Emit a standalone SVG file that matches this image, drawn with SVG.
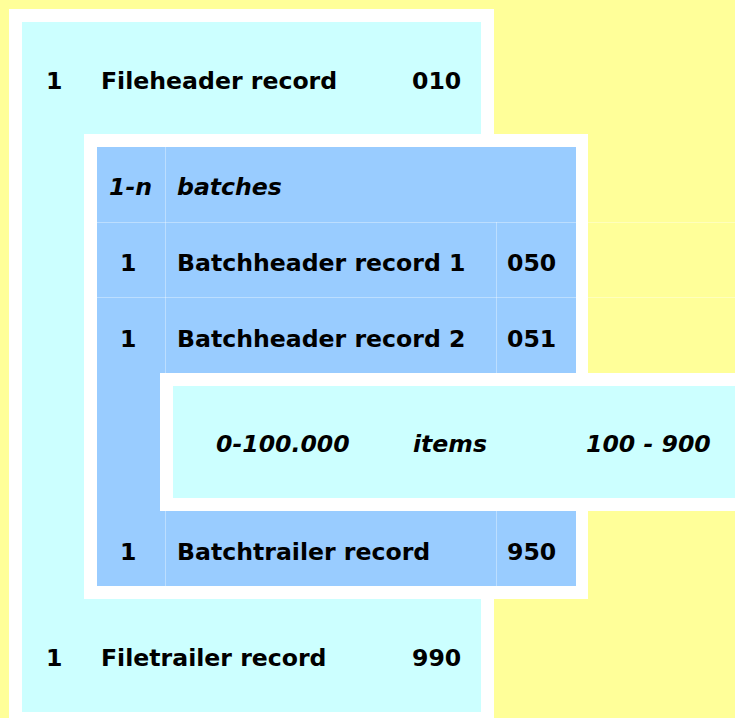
<svg xmlns="http://www.w3.org/2000/svg" width="735" height="718" viewBox="0 0 735 718">
<style>
.t{font-family:"DejaVu Sans","Verdana",sans-serif;font-weight:bold;font-size:23.6px;fill:#000}
.i{font-style:italic}
.cyan{fill:#CCFFFF}
.blue{fill:#99CCFF}
.white{fill:#FFFFFF}
.grid{stroke:#FFFFFF;stroke-opacity:0.35;stroke-width:1;fill:none}
</style>
<rect x="0" y="0" width="735" height="718" fill="#FFFF99"/>
<g id="file">
<rect class="white" x="9" y="9" width="485" height="709"/>
<rect class="cyan" x="22" y="22" width="459" height="690"/>
</g>
<g id="batches">
<rect class="white" x="84" y="134" width="504" height="465"/>
<rect class="blue" x="97" y="147" width="479" height="439"/>
</g>
<g id="items">
<rect class="white" x="160" y="373" width="580" height="138"/>
<rect class="cyan" x="173" y="386" width="567" height="112"/>
</g>
<g id="grid-lines" class="grid">
<line x1="97" y1="222.5" x2="735" y2="222.5"/>
<line x1="97" y1="297.5" x2="735" y2="297.5"/>
<line x1="165.5" y1="147" x2="165.5" y2="373"/>
<line x1="165.5" y1="511" x2="165.5" y2="586"/>
<line x1="496.5" y1="222" x2="496.5" y2="373"/>
<line x1="496.5" y1="511" x2="496.5" y2="586"/>
</g>
<g id="fileheader">
<text class="t" x="46" y="89">1</text>
<text class="t" x="101" y="89">Fileheader record</text>
<text class="t" x="412" y="89">010</text>
</g>
<g id="batches-header">
<text class="t i" x="109" y="195">1-n</text>
<text class="t i" x="177" y="195">batches</text>
</g>
<g id="batchheader1">
<text class="t" x="120" y="271">1</text>
<text class="t" x="177" y="271">Batchheader record 1</text>
<text class="t" x="507" y="271">050</text>
</g>
<g id="batchheader2">
<text class="t" x="120" y="347">1</text>
<text class="t" x="177" y="347">Batchheader record 2</text>
<text class="t" x="507" y="347">051</text>
</g>
<g id="items-row">
<text class="t i" x="216" y="452">0-100.000</text>
<text class="t i" x="413" y="452">items</text>
<text class="t i" x="586" y="452">100 - 900</text>
</g>
<g id="batchtrailer">
<text class="t" x="120" y="560">1</text>
<text class="t" x="177" y="560">Batchtrailer record</text>
<text class="t" x="507" y="560">950</text>
</g>
<g id="filetrailer">
<text class="t" x="46" y="666">1</text>
<text class="t" x="101" y="666">Filetrailer record</text>
<text class="t" x="412" y="666">990</text>
</g>
</svg>
